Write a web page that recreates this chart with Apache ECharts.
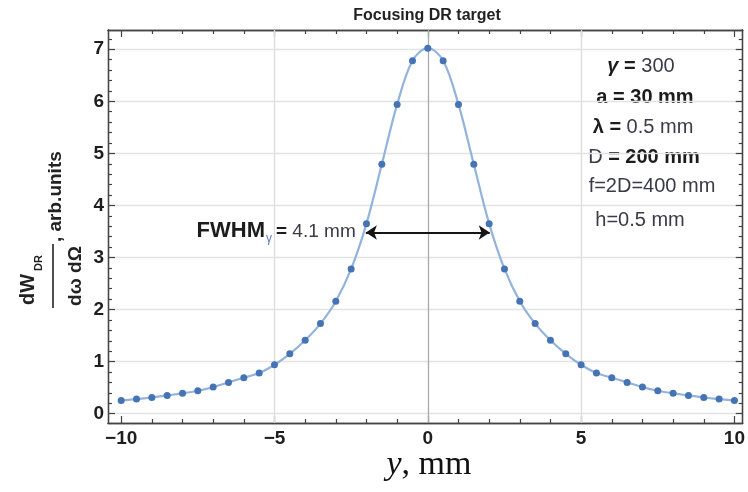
<!DOCTYPE html>
<html><head><meta charset="utf-8">
<script src="https://cdn.jsdelivr.net/npm/echarts@6/dist/echarts.min.js"></script>
<style>html,body{margin:0;padding:0;background:#fff}#c{width:748px;height:492px}</style>
</head><body><div id="c"></div>
<script>
// ---- data ----
const yPos = [-10,-9.5,-9,-8.5,-8,-7.5,-7,-6.5,-6,-5.5,-5,-4.5,-4,-3.5,-3,-2.5,-2,-1.5,-1,-0.5,0,
              0.5,1,1.5,2,2.5,3,3.5,4,4.5,5,5.5,6,6.5,7,7.5,8,8.5,9,9.5,10];
const dwValues = [0.25,0.28,0.31,0.35,0.39,0.44,0.51,0.60,0.69,0.78,0.94,1.15,1.41,1.73,2.16,2.78,3.65,4.79,5.94,6.78,7.02,
                  6.78,5.94,4.79,3.65,2.78,2.16,1.73,1.41,1.15,0.94,0.78,0.69,0.60,0.51,0.44,0.39,0.35,0.31,0.28,0.25];
const xTickMajor = [-10,-5,0,5,10];
const xTickMinor = [-9,-8,-7,-6,-4,-3,-2,-1,1,2,3,4,6,7,8,9];
const yTickMajor = [0,1,2,3,4,5,6,7];
const yTickMinor = [0.2,0.4,0.6,0.8,1.2,1.4,1.6,1.8,2.2,2.4,2.6,2.8,3.2,3.4,3.6,3.8,
                    4.2,4.4,4.6,4.8,5.2,5.4,5.6,5.8,6.2,6.4,6.6,6.8,7.2];
const xGridLines = [-5,0,5];
const fwhmEnds = [-2.02, 2.02];
const fwhmLevel = 3.48;
const xRange = [-10.43, 10.27];
const yRange = [-0.18, 7.37];
const titleText = 'Focusing DR target';

// ---- chart ----
const chart = echarts.init(document.getElementById('c'), null, {renderer:'canvas'});
const FRAME = '#444444';
const SANS = '"Liberation Sans", Arial, sans-serif';
const labelStyle = {color:'#1e1e1e', fontSize:19, fontWeight:'bold', fontFamily:SANS};
const minus = v => String(v).replace('-', '\u2212');
function xAx(pos, ticks, len, isMain){
  return {type:'value', gridIndex:0, position:pos, offset:0, min:xRange[0], max:xRange[1],
    minInterval:5, maxInterval:5,
    axisLine:{show:true, onZero:false, lineStyle:{color:FRAME, width:1.3}},
    axisTick:{show:true, inside:true, length:len, customValues:ticks, lineStyle:{color:FRAME, width:1.2}},
    axisLabel:(isMain && pos==='bottom') ? Object.assign({show:true, customValues:xTickMajor, margin:6, formatter:minus}, labelStyle) : {show:false},
    splitLine:{show:false}};
}
function yAx(pos, ticks, len, isMain){
  return {type:'value', gridIndex:0, position:pos, offset:0, min:yRange[0], max:yRange[1],
    minInterval:1, maxInterval:1,
    axisLine:{show:true, onZero:false, lineStyle:{color:FRAME, width:1.3}},
    axisTick:{show:true, inside:true, length:len, customValues:ticks, lineStyle:{color:FRAME, width:1.2}},
    axisLabel:(isMain && pos==='left') ? Object.assign({show:true, customValues:yTickMajor, margin:4}, labelStyle) : {show:false},
    splitLine:{show:(isMain && pos==='left'), lineStyle:{color:'#e3e3e3', width:1.3}}};
}
const regular = '#3a3a48', bold = '#1c1c1c';
const r20 = {fontSize:20, fontFamily:SANS, fill:regular, fontWeight:'normal'};
const b20 = {fontSize:20, fontFamily:SANS, fill:bold, fontWeight:'bold'};

const option = {
  animation:false,
  backgroundColor:'#ffffff',
  grid:{left:108, top:30, width:635, height:393},
  xAxis:[
    xAx('bottom',xTickMajor,7,true),
    xAx('top',xTickMajor,7,false),
    xAx('bottom',xTickMinor,4,false),
    xAx('top',xTickMinor,4,false)
  ],
  yAxis:[
    yAx('left',yTickMajor,7,true),
    yAx('right',yTickMajor,7,false),
    yAx('left',yTickMinor,4,false),
    yAx('right',yTickMinor,4,false)
  ],
  series:[
    {type:'line', xAxisIndex:0, yAxisIndex:0, data:[], silent:true,
     markLine:{z:1, silent:true, symbol:'none', label:{show:false},
       lineStyle:{type:'solid', width:1.3, color:'#dcdcdc'},
       data:xGridLines.map(v => ({xAxis:v, lineStyle:{type:'solid', width:1.3, color: v===0 ? '#a9a9a9' : '#dcdcdc'}}))}},
    {type:'line', xAxisIndex:0, yAxisIndex:0, z:3,
     data:yPos.map((x,i)=>[x, dwValues[i]]),
     smooth:0.35, symbol:'circle', symbolSize:7, showSymbol:true,
     itemStyle:{color:'#4573b5'},
     lineStyle:{color:'#93b3dc', width:2.2},
     emphasis:{disabled:true},
     markLine:{silent:true, symbol:['arrow','arrow'], symbolSize:11, label:{show:false},
       lineStyle:{type:'solid', color:'#151515', width:2},
       data:[[{coord:[fwhmEnds[0], fwhmLevel]},{coord:[fwhmEnds[1], fwhmLevel]}]]}}
  ],
  graphic:[
    {type:'text', x:427, y:16, style:{text:titleText, fontSize:16, fontWeight:'bold', fontFamily:SANS, fill:'#222', align:'center', verticalAlign:'middle'}},
    // x axis name
    {type:'text', x:429, y:465, style:{text:'{i|y}{r|, mm}', align:'center', verticalAlign:'middle',
      rich:{i:{fontSize:34, fontStyle:'italic', fontFamily:'"Liberation Serif","Times New Roman",serif', fill:'#111'},
            r:{fontSize:34, fontFamily:'"Liberation Serif","Times New Roman",serif', fill:'#111'}}}},
    // y axis label (rotated fraction)
    {type:'group', x:53, y:308, rotation:Math.PI/2, children:[
      {type:'line', shape:{x1:0,y1:0,x2:64,y2:0}, style:{stroke:'#222', lineWidth:1.6}},
      {type:'text', x:3, y:-15, style:{text:'dW', fontSize:20, fontWeight:'bold', fontFamily:SANS, fill:'#222', align:'left', verticalAlign:'bottom'}},
      {type:'text', x:37, y:-14, style:{text:'DR', fontSize:11, fontWeight:'bold', fontFamily:SANS, fill:'#222', align:'left', verticalAlign:'middle'}},
      {type:'text', x:32, y:13, style:{text:'d\u03c9 d\u03a9', fontSize:19, fontWeight:'bold', fontFamily:SANS, fill:'#222', align:'center', verticalAlign:'top'}},
      {type:'text', x:66, y:3, style:{text:', arb.units', fontSize:19, fontWeight:'bold', fontFamily:SANS, fill:'#222', align:'left', verticalAlign:'middle'}}
    ]},
    // parameter annotations
    {type:'text', x:641, y:66, style:{text:'{g|\u03b3}{b| = }{r|300}', align:'center', verticalAlign:'middle',
      rich:{g:Object.assign({}, b20, {fontStyle:'italic'}), b:b20, r:r20}}},
    {type:'text', x:645, y:97, style:{text:'{b|a = 30 mm}', align:'center', verticalAlign:'middle', rich:{b:b20}}},
    {type:'text', x:643, y:127, style:{text:'{b|\u03bb = }{r|0.5 mm}', align:'center', verticalAlign:'middle', rich:{b:b20, r:r20}}},
    {type:'text', x:644, y:157, style:{text:'{r|D}{b| = 200 mm}', align:'center', verticalAlign:'middle', rich:{b:b20, r:r20}}},
    {type:'text', x:652, y:186, style:{text:'{r|f=2D=400 mm}', align:'center', verticalAlign:'middle', rich:{r:r20}}},
    {type:'text', x:640, y:220, style:{text:'{r|h=0.5 mm}', align:'center', verticalAlign:'middle', rich:{r:r20}}},
    // FWHM label
    {type:'text', x:265, y:231, style:{text:'FWHM', fontSize:22, fontWeight:'bold', fontFamily:SANS, fill:'#1c1c1c', align:'right', verticalAlign:'middle'}},
    {type:'text', x:266, y:239, style:{text:'\u03b3', fontSize:12, fontFamily:SANS, fill:'#5b7db5', align:'left', verticalAlign:'middle'}},
    {type:'text', x:276, y:232, style:{text:'{e|= }{r|4.1 mm}', align:'left', verticalAlign:'middle',
      rich:{e:{fontSize:19, fontWeight:'bold', fontFamily:SANS, fill:'#1c1c1c'}, r:{fontSize:19, fontFamily:SANS, fill:regular}}}}
  ]
};
chart.setOption(option);
</script>
</body></html>
